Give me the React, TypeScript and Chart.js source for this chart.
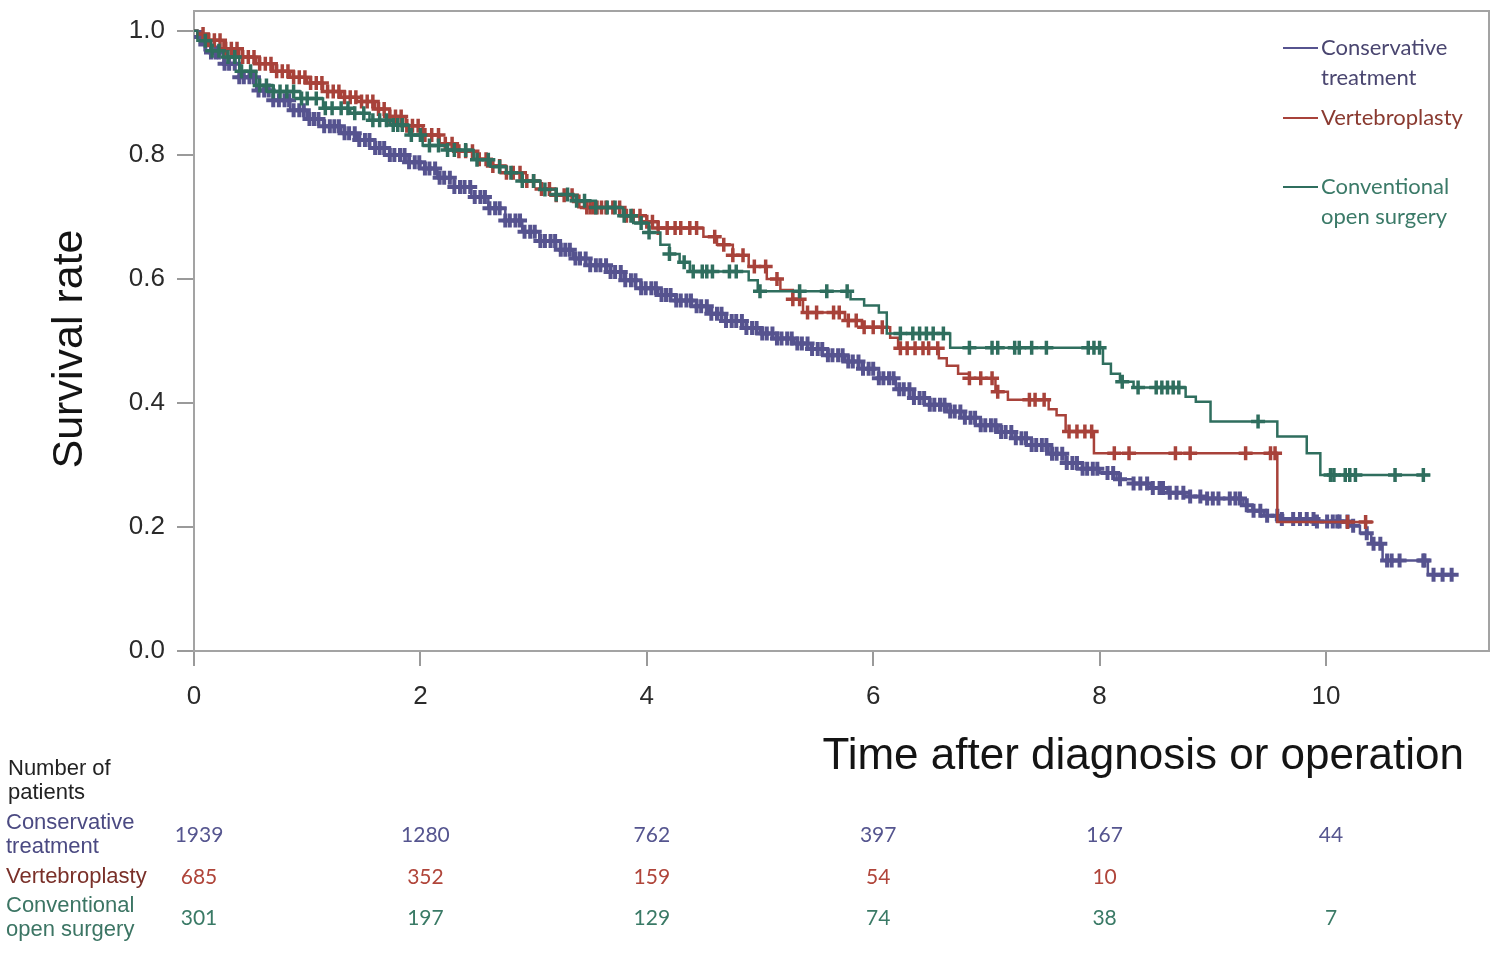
import React, { useEffect, useRef } from "react";
import { Chart, registerables } from "chart.js";

Chart.register(...registerables);

// ---------- DATA ----------
const seriesNames = ["Conservative\ntreatment", "Vertebroplasty", "Conventional\nopen surgery"];
const seriesColors = ["#56538f", "#a8423a", "#2f6e5e"];
const legendTextColors = ["#4a4670", "#8a3a30", "#3b7a68"];
const censorWidths = [4, 3.5, 3.5];

const xTickValues = [0, 2, 4, 6, 8, 10];
const yTickValues = [0, 0.2, 0.4, 0.6, 0.8, 1.0];

// Kaplan–Meier step points [time, survival]
const conservativeSteps: [number, number][] = [
  [0, 1], [0.03, 0.99], [0.08, 0.978], [0.15, 0.965], [0.26, 0.947], [0.4, 0.925], [0.55, 0.904],
  [0.7, 0.888], [0.85, 0.872], [1.0, 0.858], [1.14, 0.846], [1.3, 0.835], [1.44, 0.824], [1.6, 0.811],
  [1.73, 0.8], [1.87, 0.788], [2.0, 0.778], [2.15, 0.763], [2.3, 0.748], [2.45, 0.732], [2.6, 0.714],
  [2.75, 0.694], [2.9, 0.676], [3.05, 0.661], [3.2, 0.647], [3.35, 0.633], [3.5, 0.622], [3.65, 0.611],
  [3.8, 0.598], [3.95, 0.585], [4.1, 0.574], [4.25, 0.565], [4.4, 0.556], [4.55, 0.544], [4.7, 0.532],
  [4.85, 0.521], [5.0, 0.512], [5.15, 0.504], [5.3, 0.496], [5.45, 0.487], [5.6, 0.477], [5.75, 0.467],
  [5.9, 0.455], [6.05, 0.44], [6.2, 0.422], [6.35, 0.408], [6.5, 0.397], [6.65, 0.386], [6.8, 0.376],
  [6.95, 0.364], [7.1, 0.353], [7.25, 0.343], [7.4, 0.332], [7.55, 0.318], [7.7, 0.303], [7.85, 0.294],
  [8.0, 0.287], [8.15, 0.277], [8.3, 0.27], [8.45, 0.263], [8.6, 0.255], [8.75, 0.249], [8.9, 0.246],
  [9.27, 0.235], [9.35, 0.226], [9.45, 0.218], [9.6, 0.213], [9.9, 0.209], [10.2, 0.202], [10.3, 0.19],
  [10.4, 0.173], [10.5, 0.146], [10.9, 0.123], [11.11, 0.123],
];

const vertebroplastySteps: [number, number][] = [
  [0, 1], [0.03, 0.995], [0.12, 0.985], [0.26, 0.971], [0.4, 0.958], [0.55, 0.947], [0.7, 0.935],
  [0.85, 0.925], [1.0, 0.916], [1.14, 0.902], [1.3, 0.893], [1.44, 0.886], [1.6, 0.874], [1.73, 0.862],
  [1.87, 0.847], [2.02, 0.832], [2.17, 0.818], [2.32, 0.806], [2.47, 0.793], [2.62, 0.782], [2.76, 0.771],
  [2.9, 0.758], [3.06, 0.745], [3.2, 0.735], [3.35, 0.725], [3.45, 0.715], [3.79, 0.702], [3.95, 0.692],
  [4.1, 0.682], [4.5, 0.668], [4.62, 0.655], [4.76, 0.638], [4.9, 0.62], [5.06, 0.6], [5.18, 0.582],
  [5.29, 0.567], [5.38, 0.546], [5.75, 0.533], [5.9, 0.522], [6.15, 0.505], [6.22, 0.488], [6.58, 0.472],
  [6.65, 0.46], [6.75, 0.447], [6.85, 0.44], [7.08, 0.418], [7.19, 0.405], [7.55, 0.39], [7.62, 0.38],
  [7.7, 0.354], [7.95, 0.319], [9.57, 0.208], [10.42, 0.208],
];

const openSurgerySteps: [number, number][] = [
  [0, 1], [0.03, 0.984], [0.15, 0.968], [0.26, 0.958], [0.4, 0.935], [0.55, 0.912], [0.7, 0.902],
  [0.94, 0.891], [1.14, 0.875], [1.38, 0.867], [1.55, 0.856], [1.73, 0.848], [1.9, 0.832], [2.02, 0.815],
  [2.23, 0.808], [2.47, 0.792], [2.62, 0.781], [2.76, 0.771], [2.9, 0.758], [3.06, 0.744], [3.2, 0.736],
  [3.35, 0.726], [3.55, 0.715], [3.79, 0.702], [3.88, 0.69], [4.02, 0.675], [4.12, 0.655], [4.2, 0.64],
  [4.29, 0.627], [4.38, 0.612], [4.9, 0.598], [4.98, 0.58], [5.8, 0.567], [5.92, 0.557], [6.05, 0.546],
  [6.12, 0.512], [6.68, 0.489], [8.03, 0.463], [8.1, 0.447], [8.18, 0.434], [8.3, 0.425], [8.76, 0.41],
  [8.85, 0.402], [8.98, 0.37], [9.57, 0.346], [9.83, 0.319], [9.95, 0.284], [10.92, 0.284],
];

// Censoring times (+ marks)
const conservativeCensored = [
  0.06, 0.1, 0.15, 0.19, 0.22, 0.27, 0.31, 0.36, 0.4, 0.44, 0.49, 0.53, 0.57, 0.62, 0.66, 0.7, 0.75, 0.8,
  0.84, 0.88, 0.93, 0.97, 1.02, 1.06, 1.1, 1.15, 1.2, 1.24, 1.28, 1.33, 1.37, 1.42, 1.46, 1.51, 1.55, 1.6,
  1.64, 1.68, 1.73, 1.77, 1.82, 1.86, 1.9, 1.95, 1.99, 2.04, 2.08, 2.13, 2.17, 2.21, 2.26, 2.3, 2.35, 2.39,
  2.44, 2.48, 2.53, 2.57, 2.61, 2.66, 2.7, 2.75, 2.79, 2.84, 2.88, 2.92, 2.97, 3.01, 3.06, 3.1, 3.15, 3.19,
  3.24, 3.28, 3.32, 3.37, 3.41, 3.46, 3.5, 3.55, 3.59, 3.64, 3.68, 3.72, 3.77, 3.81, 3.86, 3.9, 3.95, 3.99,
  4.04, 4.08, 4.13, 4.17, 4.21, 4.26, 4.3, 4.35, 4.39, 4.44, 4.48, 4.53, 4.57, 4.62, 4.66, 4.7, 4.75, 4.79,
  4.84, 4.88, 4.93, 4.97, 5.02, 5.06, 5.11, 5.15, 5.19, 5.24, 5.28, 5.33, 5.37, 5.42, 5.46, 5.51, 5.55, 5.6,
  5.64, 5.69, 5.73, 5.78, 5.82, 5.87, 5.91, 5.96, 6.0, 6.05, 6.09, 6.14, 6.18, 6.23, 6.27, 6.32, 6.36, 6.41,
  6.45, 6.5, 6.54, 6.59, 6.63, 6.68, 6.72, 6.77, 6.81, 6.86, 6.9, 6.95, 6.99, 7.04, 7.08, 7.13, 7.17, 7.22,
  7.26, 7.31, 7.35, 7.4, 7.44, 7.49, 7.53, 7.58, 7.62, 7.67, 7.71, 7.76, 7.8, 7.85, 7.89, 7.94, 7.98,
  8.07, 8.12, 8.18, 8.3, 8.36, 8.42, 8.47, 8.53, 8.56, 8.62, 8.68, 8.74, 8.8, 8.89, 8.95, 9.0, 9.05, 9.15,
  9.2, 9.24, 9.3, 9.36, 9.42, 9.48, 9.57, 9.61, 9.71, 9.77, 9.83, 9.89, 9.92, 10.01, 10.06, 10.1, 10.12,
  10.19, 10.24, 10.36, 10.42, 10.48, 10.54, 10.58, 10.65, 10.86, 10.87, 10.95, 11.03, 11.11,
];

const vertebroplastyCensored = [
  0.08, 0.13, 0.18, 0.23, 0.28, 0.33, 0.38, 0.43, 0.48, 0.53, 0.58, 0.63, 0.68, 0.73, 0.78, 0.83, 0.88,
  0.93, 0.98, 1.03, 1.08, 1.13, 1.18, 1.23, 1.28, 1.33, 1.38, 1.43, 1.48, 1.53, 1.58, 1.63, 1.68, 1.73,
  1.78, 1.83, 1.88, 1.93, 1.98, 2.04, 2.1, 2.16, 2.22, 2.28, 2.34, 2.4, 2.46, 2.52, 2.58, 2.64, 2.7, 2.76,
  2.82, 2.88, 2.94, 3.0, 3.07, 3.14, 3.2, 3.27, 3.34, 3.4, 3.47, 3.5, 3.53, 3.56, 3.6, 3.64, 3.7, 3.76,
  3.82, 3.88, 3.94, 4.0, 4.05, 4.1, 4.18, 4.25, 4.3, 4.38, 4.44, 4.6, 4.68, 4.76, 4.85, 4.95, 5.05, 5.15,
  5.29, 5.35, 5.42, 5.5, 5.65, 5.7, 5.78, 5.85, 5.92, 6.0, 6.08, 6.24, 6.3, 6.37, 6.44, 6.49, 6.57, 6.85,
  6.95, 7.05, 7.1, 7.38, 7.43, 7.51, 7.73, 7.8, 7.87, 7.93, 8.13, 8.26, 8.67, 8.8, 9.29, 9.51, 9.55,
  10.19, 10.35,
];

const openSurgeryCensored = [
  0.1, 0.16, 0.22, 0.3, 0.36, 0.42, 0.5, 0.58, 0.64, 0.7, 0.76, 0.82, 0.88, 0.95, 1.0, 1.08, 1.16, 1.22,
  1.3, 1.36, 1.42, 1.5, 1.58, 1.64, 1.7, 1.76, 1.8, 1.84, 1.92, 2.0, 2.08, 2.16, 2.24, 2.3, 2.4, 2.5, 2.6,
  2.7, 2.8, 2.9, 3.0, 3.1, 3.2, 3.3, 3.38, 3.45, 3.55, 3.65, 3.72, 3.8, 3.86, 3.95, 4.02, 4.2, 4.33, 4.41,
  4.49, 4.53, 4.58, 4.73, 4.79, 5.0, 5.35, 5.59, 5.77, 6.24, 6.35, 6.41, 6.47, 6.53, 6.62, 6.85, 7.05,
  7.1, 7.25, 7.29, 7.4, 7.53, 7.9, 7.95, 8.0, 8.2, 8.34, 8.5, 8.55, 8.6, 8.65, 8.7, 9.4, 10.04, 10.07,
  10.17, 10.21, 10.26, 10.61, 10.86,
];

// Number at risk
const riskTimes = [0, 2, 4, 6, 8, 10];
const conservativeAtRisk = [1939, 1280, 762, 397, 167, 44];
const vertebroplastyAtRisk: (number | null)[] = [685, 352, 159, 54, 10, null];
const openSurgeryAtRisk = [301, 197, 129, 74, 38, 7];
const riskColors = ["#55558f", "#b0453a", "#3a7a66"];
const riskLabelColors = ["#4b4a82", "#7a3029", "#3c7564"];

const xAxisTitle = "Time after diagnosis or operation";
const yAxisTitle = "Survival rate";
const riskHeader = "Number of\npatients";

// ---------- HELPERS ----------
function survivalAt(steps: [number, number][], t: number): number {
  let v = steps[0][1];
  for (const [st, sv] of steps) {
    if (st <= t + 1e-9) v = sv;
    else break;
  }
  return v;
}

const allSteps = [conservativeSteps, vertebroplastySteps, openSurgerySteps];
const allCensored = [conservativeCensored, vertebroplastyCensored, openSurgeryCensored];
const allRisk = [conservativeAtRisk, vertebroplastyAtRisk, openSurgeryAtRisk];

const decorPlugin = {
  id: "decor",
  beforeDatasetsDraw(chart: any) {
    const { ctx, chartArea } = chart;
    ctx.save();
    ctx.strokeStyle = "#a3a3a3";
    ctx.lineWidth = 2;
    ctx.strokeRect(chartArea.left, chartArea.top, chartArea.right - chartArea.left, chartArea.bottom - chartArea.top);
    ctx.restore();
  },
  afterDraw(chart: any) {
    const { ctx } = chart;
    const xs = chart.scales.x;
    ctx.save();
    // Y title
    ctx.fillStyle = "#141414";
    ctx.font = "43px 'Liberation Sans', Arial, sans-serif";
    ctx.textAlign = "center";
    ctx.textBaseline = "middle";
    ctx.translate(70, 349);
    ctx.rotate(-Math.PI / 2);
    ctx.fillText(yAxisTitle, 0, 0);
    ctx.restore();

    ctx.save();
    // X title
    ctx.fillStyle = "#141414";
    ctx.font = "44px 'Liberation Sans', Arial, sans-serif";
    ctx.textAlign = "right";
    ctx.textBaseline = "middle";
    ctx.fillText(xAxisTitle, 1464, 757);

    // Legend
    const legendY = [48, 118, 187];
    ctx.font = "22px Lato, 'Open Sans', sans-serif";
    ctx.textAlign = "left";
    seriesNames.forEach((name, i) => {
      const y = legendY[i];
      ctx.strokeStyle = seriesColors[i];
      ctx.lineWidth = 2;
      ctx.beginPath();
      ctx.moveTo(1283, y);
      ctx.lineTo(1318, y);
      ctx.stroke();
      ctx.fillStyle = legendTextColors[i];
      name.split("\n").forEach((line, j) => ctx.fillText(line, 1321, y + j * 30));
    });

    // Risk table
    ctx.font = "22px 'Liberation Sans', Arial, sans-serif";
    ctx.fillStyle = "#222";
    riskHeader.split("\n").forEach((line, j) => ctx.fillText(line, 8, 769 + j * 24));
    const rowY = [835, 877, 918];
    seriesNames.forEach((name, i) => {
      ctx.font = "22px 'Liberation Sans', Arial, sans-serif";
      ctx.fillStyle = riskLabelColors[i];
      ctx.textAlign = "left";
      const lines = name.split("\n");
      const startY = rowY[i] - ((lines.length - 1) * 24) / 2;
      lines.forEach((line, j) => ctx.fillText(line, 6, startY + j * 24));
      ctx.font = "21px Lato, 'Open Sans', sans-serif";
      ctx.fillStyle = riskColors[i];
      ctx.textAlign = "center";
      allRisk[i].forEach((n, k) => {
        if (n === null || n === undefined) return;
        ctx.fillText(String(n), xs.getPixelForValue(riskTimes[k]) + 5, rowY[i]);
      });
    });
    ctx.restore();
  },
};

export default function App() {
  const ref = useRef<HTMLCanvasElement | null>(null);
  useEffect(() => {
    if (!ref.current) return;
    const datasets: any[] = [];
    const orders = [3, 2, 1];
    allSteps.forEach((steps, i) => {
      datasets.push({
        type: "line",
        label: seriesNames[i].replace("\n", " "),
        data: steps.map(([x, y]) => ({ x, y })),
        borderColor: seriesColors[i],
        borderWidth: 2.5,
        pointRadius: 0,
        stepped: true,
        fill: false,
        order: orders[i] * 2,
      });
      datasets.push({
        type: "scatter",
        label: seriesNames[i].replace("\n", " ") + " censored",
        data: allCensored[i].map((t) => ({ x: t, y: survivalAt(steps, t) })),
        pointStyle: "cross",
        pointRadius: 7,
        borderColor: seriesColors[i],
        backgroundColor: seriesColors[i],
        borderWidth: censorWidths[i],
        showLine: false,
        order: orders[i] * 2 - 1,
      });
    });

    const chart = new Chart(ref.current, {
      type: "scatter",
      data: { datasets },
      options: {
        animation: false,
        responsive: false,
        devicePixelRatio: 1,
        layout: { padding: { left: 0, top: 7, right: 11, bottom: 0 } },
        plugins: { legend: { display: false }, tooltip: { enabled: false } },
        scales: {
          x: {
            type: "linear",
            min: 0,
            max: 11.44,
            afterFit: (s: any) => { s.height = 960 - 651; s.paddingLeft = 0; s.paddingRight = 0; },
            afterBuildTicks: (s: any) => { s.ticks = xTickValues.map((v) => ({ value: v })); },
            grid: { drawOnChartArea: false, drawTicks: true, tickLength: 15, color: "#9a9a9a", lineWidth: 2 },
            border: { display: false },
            ticks: {
              color: "#2a2a2a",
              font: { family: "'Liberation Sans', Arial, sans-serif", size: 26 },
              padding: 15,
              maxRotation: 0,
              callback: (v: any) => String(v),
            },
          },
          y: {
            type: "linear",
            min: 0,
            max: 1.032,
            afterFit: (s: any) => { s.width = 194; s.paddingTop = 0; s.paddingBottom = 0; },
            afterBuildTicks: (s: any) => { s.ticks = yTickValues.map((v) => ({ value: v })); },
            grid: { drawOnChartArea: false, drawTicks: true, tickLength: 17, color: "#9a9a9a", lineWidth: 2 },
            border: { display: false },
            ticks: {
              color: "#2a2a2a",
              font: { family: "'Liberation Sans', Arial, sans-serif", size: 26 },
              padding: 12,
              callback: (v: any) => Number(v).toFixed(1),
            },
          },
        },
      },
      plugins: [decorPlugin],
    });
    return () => chart.destroy();
  }, []);

  return (
    <div style={{ position: "absolute", left: 0, top: 0, width: 1500, height: 960, background: "#fff" }}>
      <canvas ref={ref} width={1500} height={960} style={{ width: 1500, height: 960, display: "block" }} />
    </div>
  );
}
